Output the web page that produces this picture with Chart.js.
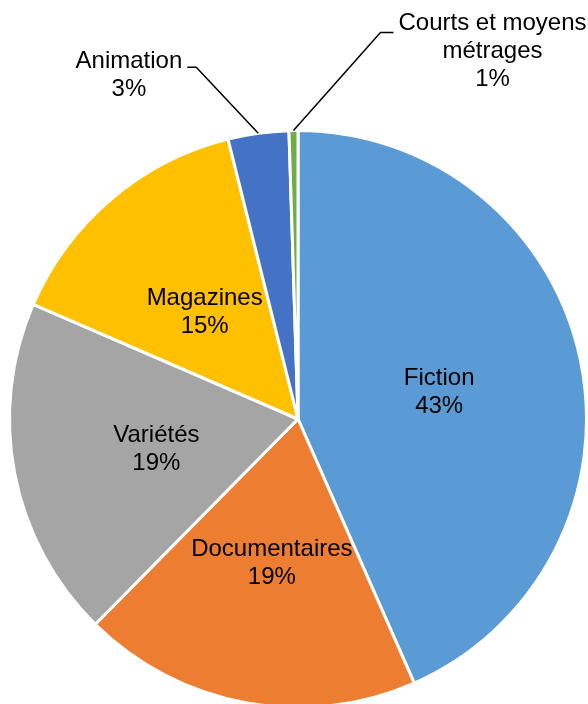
<!DOCTYPE html>
<html><head><meta charset="utf-8">
<script src="https://cdn.jsdelivr.net/npm/chart.js@4/dist/chart.umd.min.js"></script>
<style>
html,body{margin:0;padding:0;overflow:hidden;background:#fff;width:588px;height:704px}
#wrap{position:absolute;left:0;top:0;width:588px;height:720px}
</style>
</head><body><div id="wrap"><canvas id="c"></canvas></div>
<script>
const categories = ['Fiction', 'Documentaires', 'Variétés', 'Magazines', 'Animation', ['Courts et moyens', 'métrages']];
const shares = [43.4, 19.0, 19.1, 14.6, 3.4, 0.5];
const sliceColors = ['#5B9BD5', '#ED7D31', '#A5A5A5', '#FFC000', '#4472C4', '#70AD47'];

const FONT = '24px "Liberation Sans", Arial, sans-serif';
const LH = 28;

const labelPlugin = {
  id: 'pieLabels',
  afterDatasetsDraw(chart, args, opts) {
    const ctx = chart.ctx;
    const meta = chart.getDatasetMeta(0);
    const total = shares.reduce((a, b) => a + b, 0);
    ctx.save();
    ctx.font = FONT;
    ctx.fillStyle = '#000';
    ctx.strokeStyle = '#000';
    ctx.lineWidth = 1.5;
    meta.data.forEach((arc, i) => {
      const p = arc.getProps(['x', 'y', 'startAngle', 'endAngle', 'outerRadius'], true);
      const mid = (p.startAngle + p.endAngle) / 2;
      const pct = Math.round(shares[i] / total * 100 + 1e-9) + '%';
      const lines = [].concat(categories[i], pct);
      const out = opts.outside[i];
      if (!out) {
        const r = p.outerRadius * opts.insideRatio;
        const cx = p.x + Math.cos(mid) * r;
        const cy = p.y + Math.sin(mid) * r + opts.insideShift;
        ctx.textAlign = 'center';
        ctx.textBaseline = 'middle';
        lines.forEach((l, k) => ctx.fillText(l, cx, cy + (k - (lines.length - 1) / 2) * LH));
      } else {
        const ax = p.x + Math.cos(mid) * p.outerRadius;
        const ay = p.y + Math.sin(mid) * p.outerRadius;
        const ex = ax + out.dx, ey = ay + out.dy;
        const lx = ex + out.hx;
        ctx.beginPath();
        ctx.moveTo(ax, ay);
        ctx.lineTo(ex, ey);
        ctx.lineTo(lx, ey);
        ctx.stroke();
        const widest = Math.max(...lines.map(l => ctx.measureText(l).width));
        const bx = out.hx < 0 ? lx - 5 - widest / 2 : lx + 5 + widest / 2;
        ctx.textAlign = 'center';
        ctx.textBaseline = 'alphabetic';
        lines.forEach((l, k) => ctx.fillText(l, bx, ey + out.by + k * LH));
      }
    });
    ctx.restore();
  }
};

new Chart(document.getElementById('c'), {
  type: 'pie',
  data: {
    labels: categories,
    datasets: [{
      data: shares,
      backgroundColor: sliceColors,
      borderColor: '#FFFFFF',
      borderWidth: 3
    }]
  },
  options: {
    responsive: true,
    maintainAspectRatio: false,
    animation: false,
    layout: { padding: { left: 8, right: 0, top: 129, bottom: 11 } },
    plugins: {
      legend: { display: false },
      tooltip: { enabled: false },
      pieLabels: {
        insideRatio: 0.5,
        insideShift: 3,
        outside: { 4: { dx: -62, dy: -66, hx: -9, by: 1 }, 5: { dx: 87, dy: -98, hx: 13, by: -3 } }
      }
    }
  },
  plugins: [labelPlugin]
});
</script>
</body></html>
